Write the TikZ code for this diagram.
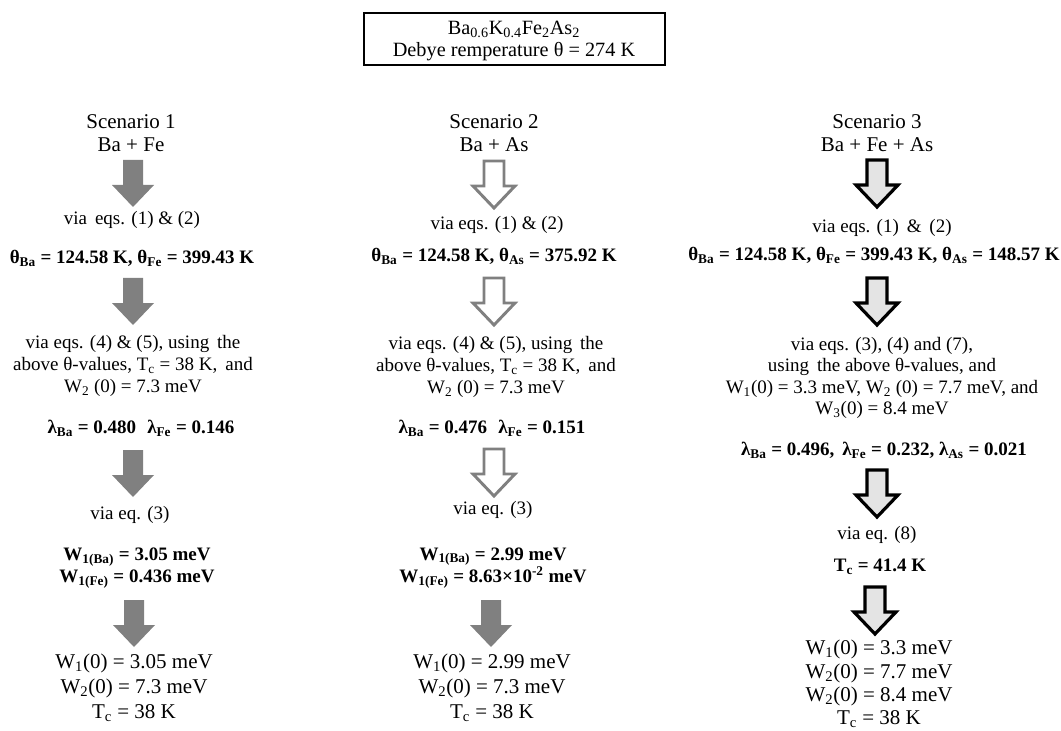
\documentclass[tikz,border=0pt]{standalone}
\usepackage{fontspec}
\setmainfont{Liberation Serif}
\definecolor{arrgray}{RGB}{128,128,128}
\definecolor{lightfill}{RGB}{228,228,228}
\newcommand\bArrow[3]{%
  \path[#3, shift={(#1,#2)}] (-10,0) -- (10,0) -- (10,25) -- (21,25) -- (0,47) -- (-21,25) -- (-10,25) -- cycle;}
\begin{document}
\begin{tikzpicture}[x=0.75pt,y=-0.75pt,
  every node/.style={inner sep=0pt, outer sep=0pt, text=black},
  title/.style={font=\fontsize{15.2}{16.2}\selectfont, align=center},
  scen/.style={font=\fontsize{15.75}{17.25}\selectfont, align=center},
  via/.style={font=\fontsize{14.25}{16.2}\selectfont, align=center},
  res/.style={font=\bfseries\fontsize{14.25}{16}\selectfont, align=center},
  fin/.style={font=\fontsize{15.75}{18.75}\selectfont, align=center},
  fintight/.style={font=\fontsize{15.75}{17.6}\selectfont, align=center},
  solidarr/.style={fill=arrgray, draw=none},
  openarr/.style={fill=white, draw=arrgray, line width=2.2pt},
  darkarr/.style={fill=lightfill, draw=black, line width=2.4pt}]
\useasboundingbox (0,0) rectangle (1061,731);

% top box
\node[draw, line width=1.2pt, minimum width=225.5pt, minimum height=39pt] (topbox) at (514.5,39) {};
\node[title] (toptext) at (514,41) {Ba\textsubscript{0.6}K\textsubscript{0.4}Fe\textsubscript{2}As\textsubscript{2}\\Debye remperature θ = 274 K};

% ---------------- Scenario 1 ----------------
\node[scen] (s1) at (131,133) {Scenario 1\\Ba + Fe};
\bArrow{133}{160}{solidarr}
\node[via] (v11) at (132,220) {via\, eqs. (1) \& (2)};
\node[res] (t11) at (132,258) {θ\textsubscript{Ba} = 124.58 K, θ\textsubscript{Fe} = 399.43 K};
\bArrow{133}{278}{solidarr}
\node[via] (v12) at (133,366) {via eqs. (4) \& (5), using\, the\\above θ-values, T\textsubscript{c} = 38 K,\, and\\W\textsubscript{2} (0) = 7.3 meV};
\node[res] (l1) at (141,428) {λ\textsubscript{Ba} = 0.480\,\, λ\textsubscript{Fe} = 0.146};
\bArrow{133}{450}{solidarr}
\node[via] (v13) at (130,515) {via eq. (3)};
\node[res] (w1) at (137,568) {W\textsubscript{1(Ba)} = 3.05 meV\\W\textsubscript{1(Fe)} = 0.436 meV};
\bArrow{134}{600}{solidarr}
\node[fin] (r1) at (134,688) {W\textsubscript{1}(0) = 3.05 meV\\W\textsubscript{2}(0) = 7.3 meV\\T\textsubscript{c} = 38 K};

% ---------------- Scenario 2 ----------------
\node[scen] (s2) at (494,133) {Scenario 2\\Ba + As};
\bArrow{494}{161}{openarr}
\node[via] (v21) at (497,225) {via eqs. (1) \& (2)};
\node[res] (t21) at (494,256) {θ\textsubscript{Ba} = 124.58 K, θ\textsubscript{As} = 375.92 K};
\bArrow{494}{278}{openarr}
\node[via] (v22) at (496,367) {via eqs. (4) \& (5), using\, the\\above θ-values, T\textsubscript{c} = 38 K,\, and\\W\textsubscript{2} (0) = 7.3 meV};
\node[res] (l2) at (492,428) {λ\textsubscript{Ba} = 0.476\,\, λ\textsubscript{Fe} = 0.151};
\bArrow{494}{449}{openarr}
\node[via] (v23) at (493,510) {via eq. (3)};
\node[res] (w2) at (493,568) {W\textsubscript{1(Ba)} = 2.99 meV\\W\textsubscript{1(Fe)} = 8.63×10\textsuperscript{-2} meV};
\bArrow{491}{600}{solidarr}
\node[fin] (r2) at (492,688) {W\textsubscript{1}(0) = 2.99 meV\\W\textsubscript{2}(0) = 7.3 meV\\T\textsubscript{c} = 38 K};

% ---------------- Scenario 3 ----------------
\node[scen] (s3) at (877,133) {Scenario 3\\Ba + Fe + As};
\bArrow{877}{160}{darkarr}
\node[via] (v31) at (882,228) {via eqs. (1)\, \&\, (2)};
\node[res] (t31) at (874,255) {θ\textsubscript{Ba} = 124.58 K, θ\textsubscript{Fe} = 399.43 K, θ\textsubscript{As} = 148.57 K};
\bArrow{877}{278}{darkarr}
\node[via] (v32) at (882,378) {via eqs. (3), (4) and (7),\\using\, the above θ-values, and\\W\textsubscript{1}(0) = 3.3 meV, W\textsubscript{2} (0) = 7.7 meV, and\\W\textsubscript{3}(0) = 8.4 meV};
\node[res] (l3) at (884,450) {λ\textsubscript{Ba} = 0.496,\, λ\textsubscript{Fe} = 0.232, λ\textsubscript{As} = 0.021};
\bArrow{877}{470}{darkarr}
\node[via] (v33) at (877,535) {via eq. (8)};
\node[res] (tc3) at (880,567) {T\textsubscript{c} = 41.4 K};
\bArrow{875}{587}{darkarr}
\node[fintight] (r3) at (879,684) {W\textsubscript{1}(0) = 3.3 meV\\W\textsubscript{2}(0) = 7.7 meV\\W\textsubscript{2}(0) = 8.4 meV\\T\textsubscript{c} = 38 K};
\end{tikzpicture}
\end{document}
